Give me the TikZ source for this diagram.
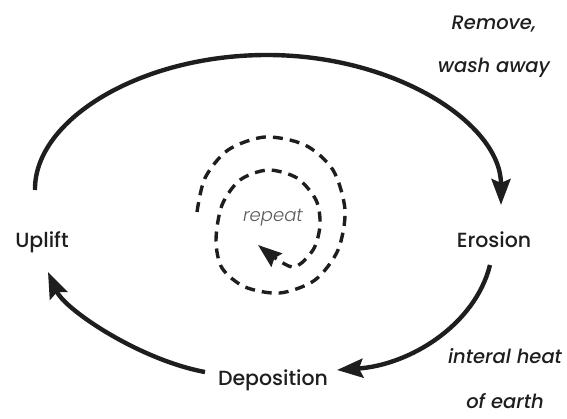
\documentclass[tikz,border=0pt]{standalone}
\usepackage{fontspec}
\setmainfont{Poppins}[UprightFont=* Medium, ItalicFont=* Medium Italic]
\newfontfamily\lightfont{Poppins}[UprightFont=* Light, ItalicFont=* Light Italic]
\usepackage{xcolor}
\usepackage{tikz}
\usetikzlibrary{arrows.meta}
\usetikzlibrary{positioning}
\definecolor{ink}{HTML}{1E1E1E}
\definecolor{soft}{HTML}{5A5A5A}
\tikzstyle{stage} = [text=ink, font=\fontsize{20.5}{24}\selectfont, anchor=base, inner sep=0pt]
\tikzstyle{note} = [text=ink, font=\fontsize{19.5}{23}\selectfont\itshape, anchor=base, inner sep=0pt]
\tikzstyle{arrow} = [draw=ink, line width=4.4pt, -{Stealth[length=26pt, width=19pt, inset=4pt]}]
\tikzstyle{spiral} = [draw=ink, line width=3.4pt, dash pattern=on 10pt off 7pt, -{Stealth[length=24pt, width=17pt, inset=3pt]}]

\begin{document}
\begin{tikzpicture}[x=1pt, y=-1pt]
    \useasboundingbox (0,0) rectangle (567,419);
    \node(uplift)[stage] at (42,248) {Uplift};
    \node(erosion)[stage] at (494,248) {Erosion};
    \node(deposition)[stage] at (273,385) {Deposition};
    %
    \node(remove)[note] at (494,30) {Remove,};
    \node(wash)[note] at (494,73) {wash away};
    \node(heat)[note] at (505,363) {interal heat};
    \node(earth)[note] at (505,408) {of earth};
    \node(repeat)[note, text=soft, font=\fontsize{18}{21}\lightfont\itshape] at (273,222) {repeat};
    %
    \draw[arrow] ([shift={(-7,-58)}]uplift.base) .. controls (34,120) and (140,55) .. (267,55)
        .. controls (396,55) and (501,124) .. ([shift={(7,-43)}]erosion.base);
    \draw[arrow] ([shift={(-4,17)}]erosion.base) .. controls (475,325) and (410,365) .. ([shift={(64,-15)}]deposition.base);
    \draw[arrow] ([shift={(-68,-13)}]deposition.base) .. controls (140,360) and (65,310) .. ([shift={(6,24)}]uplift.base);
    %
    \draw[spiral] plot[smooth] coordinates {(197,212) (205,178) (228,150) (265,137) (305,145) (333,170) (345,210)
        (338,250) (315,280) (280,293) (245,287) (222,268) (216,240) (222,205) (240,180) (268,170) (297,178)
        (316,200) (320,225) (313,250) (292,267) (258,245)};
\end{tikzpicture}
\end{document}
